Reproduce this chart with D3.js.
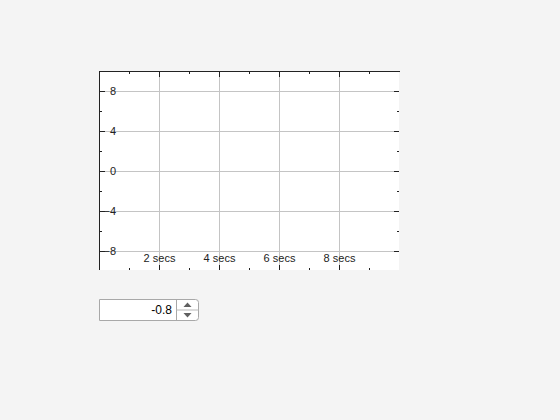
<!DOCTYPE html>
<html>
<head>
<meta charset="utf-8">
<script src="https://cdn.jsdelivr.net/npm/d3@7"></script>
<style>
  html, body { margin: 0; padding: 0; background: #f4f4f4; }
  svg { display: block; font-family: "Liberation Sans", Arial, sans-serif; }
</style>
</head>
<body>
<svg id="chart" width="560" height="420"></svg>
<script>
// ---- data ----
const xDomain = [0, 10];
const yDomain = [-10, 10];
const xMajorTicks = [2, 4, 6, 8];
const xMinorTicks = [1, 3, 5, 7, 9];
const xTickLabels = ["2 secs", "4 secs", "6 secs", "8 secs"];
const yMajorTicks = [-8, -4, 0, 4, 8];
const yMinorTicks = [-6, -2, 2, 6];
const spinnerValue = "-0.8";

// ---- layout ----
const L = 99, R = 399, T = 71, B = 271;
const svg = d3.select("#chart");
const x = d3.scaleLinear().domain(xDomain).range([L, R]);
const y = d3.scaleLinear().domain(yDomain).range([B, T]);

// plot background
svg.append("rect").attr("x", L).attr("y", T).attr("width", R - L).attr("height", B - 1 - T).attr("fill", "#ffffff");

// grid
const grid = svg.append("g").attr("stroke", "#c4c4c4").attr("stroke-width", 1).attr("shape-rendering", "crispEdges");
grid.selectAll("line.v").data(xMajorTicks).join("line")
  .attr("x1", d => x(d)).attr("x2", d => x(d)).attr("y1", T).attr("y2", B - 1);
grid.selectAll("line.h").data(yMajorTicks).join("line")
  .attr("y1", d => y(d)).attr("y2", d => y(d)).attr("x1", L).attr("x2", R);

function styleAxis(g, keepDomain) {
  g.attr("shape-rendering", "crispEdges");
  if (!keepDomain) g.select(".domain").remove();
  else g.select(".domain").attr("stroke", "#222");
  g.selectAll(".tick line").attr("stroke", "#222");
  g.selectAll(".tick text").attr("fill", "#222").attr("font-size", 11)
    .attr("font-family", "'Liberation Sans', Arial, sans-serif");
}

// top axis (ticks pointing down)
svg.append("g").attr("transform", `translate(0,${T})`)
  .call(d3.axisTop(x).tickValues(xMajorTicks).tickSize(-6).tickSizeOuter(0).tickFormat(""))
  .call(g => styleAxis(g, true));
svg.append("g").attr("transform", `translate(0,${T})`)
  .call(d3.axisTop(x).tickValues(xMinorTicks).tickSize(-3).tickSizeOuter(0).tickFormat(""))
  .call(g => styleAxis(g, false));

// bottom axis (ticks pointing up, labels above)
svg.append("g").attr("transform", `translate(0,${B - 1})`)
  .call(d3.axisBottom(x).tickValues(xMajorTicks).tickSize(-5).tickPadding(-16)
    .tickFormat((d, i) => xTickLabels[i]))
  .call(g => styleAxis(g, false));
svg.append("g").attr("transform", `translate(0,${B - 1})`)
  .call(d3.axisBottom(x).tickValues(xMinorTicks).tickSize(-2).tickFormat(""))
  .call(g => styleAxis(g, false));

// left axis (ticks pointing right, labels inside)
svg.append("g").attr("transform", `translate(${L},0)`)
  .call(d3.axisLeft(y).tickValues(yMajorTicks).tickSize(-6).tickSizeOuter(0).tickPadding(-17))
  .call(g => styleAxis(g, true))
  .call(g => g.select(".domain").attr("d", `M0.5,${T}V${B - 1}`));
svg.append("g").attr("transform", `translate(${L},0)`)
  .call(d3.axisLeft(y).tickValues(yMinorTicks).tickSize(-3).tickFormat(""))
  .call(g => styleAxis(g, false));

// right axis (ticks pointing left)
svg.append("g").attr("transform", `translate(${R},0)`)
  .call(d3.axisRight(y).tickValues(yMajorTicks).tickSize(-5).tickFormat(""))
  .call(g => styleAxis(g, false));
svg.append("g").attr("transform", `translate(${R},0)`)
  .call(d3.axisRight(y).tickValues(yMinorTicks).tickSize(-2).tickFormat(""))
  .call(g => styleAxis(g, false));

// ---- spinner widget ----
const sp = svg.append("g");
const sx = 99.5, sy = 299.5, sw = 99, sh = 21, bx = 176.5;
sp.append("path")
  .attr("d", `M${sx},${sy}H${sx + sw - 3}Q${sx + sw},${sy} ${sx + sw},${sy + 3}V${sy + sh - 3}Q${sx + sw},${sy + sh} ${sx + sw - 3},${sy + sh}H${sx}Z`)
  .attr("fill", "#ffffff").attr("stroke", "#a8a8a8");
sp.append("line").attr("x1", bx).attr("x2", bx).attr("y1", sy).attr("y2", sy + sh).attr("stroke", "#a8a8a8");
sp.append("line").attr("x1", bx).attr("x2", sx + sw).attr("y1", sy + sh / 2).attr("y2", sy + sh / 2).attr("stroke", "#b8b8b8");
const cx = (bx + sx + sw) / 2;
sp.append("path").attr("d", `M${cx - 4},${sy + 7.5}L${cx + 4},${sy + 7.5}L${cx},${sy + 3}Z`).attr("fill", "#606060");
sp.append("path").attr("d", `M${cx - 4},${sy + 13.5}L${cx + 4},${sy + 13.5}L${cx},${sy + 18}Z`).attr("fill", "#606060");
sp.append("text").attr("x", 172).attr("y", sy + sh / 2).attr("dy", "0.35em")
  .attr("text-anchor", "end").attr("font-size", 12).attr("fill", "#000").text(spinnerValue);
</script>
</body>
</html>
